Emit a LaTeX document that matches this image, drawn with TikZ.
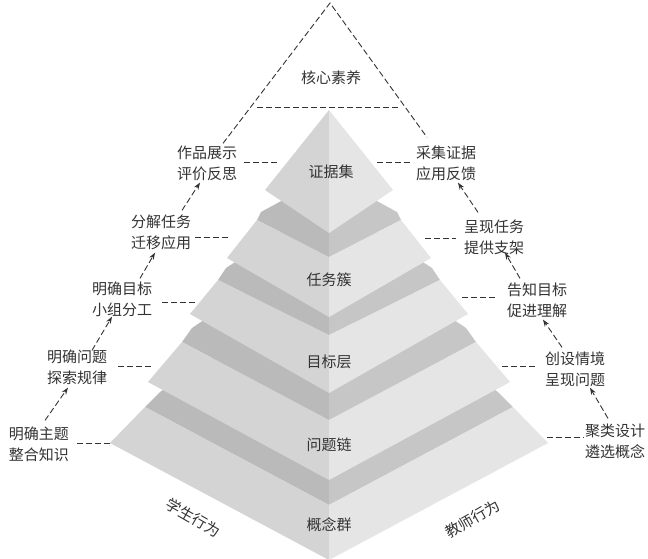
\documentclass[tikz,border=0pt]{standalone}
\usepackage{fontspec}
\setmainfont{Noto Sans CJK SC}
\usetikzlibrary{arrows.meta}
\definecolor{ink}{HTML}{333333}
\definecolor{faceL}{HTML}{D4D4D4}
\definecolor{faceR}{HTML}{E5E5E5}
\definecolor{bandL}{HTML}{BABABA}
\definecolor{bandR}{HTML}{C6C6C6}

\begin{document}
\begin{tikzpicture}[x=1pt,y=-1pt,
  lab/.style={font=\fontsize{15}{21}\selectfont,text=ink,align=center,inner sep=1pt},
  tag/.style={font=\fontsize{15}{18}\selectfont,text=ink,inner sep=1pt},
  guide/.style={draw=ink,line width=0.9pt,dash pattern=on 6pt off 3pt},
  tick/.style={guide},
  arr/.style={guide,-{Stealth[length=7pt,width=5pt]}}
]
  \fill[white] (0,0) rectangle (648,558);
  \useasboundingbox (0,0) rectangle (648,558);

  % stepped pyramid, bottom tier first
  \foreach \bx/\by/\mx/\my/\tx/\ty/\bc/\cf/\cb in {
      110/443/145/407/160/392/560/505/279,
      148/382/182/342/192/328/480/420/236,
      190/314/218/280/226/268/393/335/201,
      227/258/257/220/261/212/317/257/175}{
    \fill[bandL] (\tx,\ty) -- (329,\cb) -- (329,\cf) -- (\mx,\my) -- cycle;
    \fill[bandR] ({658-\tx},\ty) -- (329,\cb) -- (329,\cf) -- ({658-\mx},\my) -- cycle;
    \fill[faceL] (\mx,\my) -- (329,\cf) -- (329,\bc) -- (\bx,\by) -- cycle;
    \fill[faceR] ({658-\mx},\my) -- (329,\cf) -- (329,\bc) -- ({658-\bx},\by) -- cycle;
  }
  \fill[faceL] (329,110) -- (265,190) -- (329,233) -- cycle;
  \fill[faceR] (329,110) -- (393,190) -- (329,233) -- cycle;

  % tier names
  \node[tag] (core) at (331,78) {核心素养};
  \node[tag] (evid) at (331,172) {证据集};
  \node[tag] (task) at (329,280) {任务簇};
  \node[tag] (goal) at (329,362) {目标层};
  \node[tag] (prob) at (329,445) {问题链};
  \node[tag] (conc) at (329,525) {概念群};
  \node[tag,rotate=-30] (stud) at (193,518) {学生行为};
  \node[tag,rotate=30] (teach) at (473,519) {教师行为};

  % student side
  \node[lab] (s1) at (39,444) {明确主题\\整合知识};
  \node[lab] (s2) at (77,367) {明确问题\\探索规律};
  \node[lab] (s3) at (122,299) {明确目标\\小组分工};
  \node[lab] (s4) at (161,232) {分解任务\\迁移应用};
  \node[lab] (s5) at (207,163) {作品展示\\评价反思};

  % teacher side
  \node[lab] (t1) at (615,441) {聚类设计\\遴选概念};
  \node[lab] (t2) at (575,369) {创设情境\\呈现问题};
  \node[lab] (t3) at (537,300) {告知目标\\促进理解};
  \node[lab] (t4) at (494,237) {呈现任务\\提供支架};
  \node[lab] (t5) at (446,163) {采集证据\\应用反馈};

  \coordinate (apex) at (330,3);
  \coordinate (capL) at (257,107);
  \coordinate (capR) at (400,107);
  \coordinate (d1) at (110,443);
  \coordinate (d2) at (151,366);
  \coordinate (d3) at (195,302);
  \coordinate (d4) at (228,237);
  \coordinate (d5) at (277,162);
  \coordinate (e1) at (547,437);
  \coordinate (e2) at (502,366);
  \coordinate (e3) at (462,297);
  \coordinate (e4) at (425,238);
  \coordinate (e5) at (377,162);

  \draw[guide] (capL) -- (capR);
  \draw[guide] ([xshift=16pt,yshift=1pt]s5.north) -- (apex) -- ([xshift=-19pt,yshift=7pt]t5.north);

  \draw[arr] ([xshift=6pt,yshift=5pt]s1.north) -- ([xshift=-9pt,yshift=-2pt]s2.south);
  \draw[arr] ([xshift=15pt,yshift=-2pt]s2.north) -- ([xshift=-10pt,yshift=1pt]s3.south);
  \draw[arr] ([xshift=18pt,yshift=2pt]s3.north) -- ([xshift=-6pt,yshift=-2pt]s4.south);
  \draw[arr] ([xshift=21pt,yshift=3pt]s4.north) -- ([xshift=-7pt,yshift=-1pt]s5.south);

  \draw[arr] ([xshift=-7pt,yshift=4pt]t1.north) -- ([xshift=15pt]t2.south);
  \draw[arr] ([xshift=-13pt,yshift=3pt]t2.north) -- ([xshift=6pt,yshift=-1pt]t3.south);
  \draw[arr] ([xshift=-17pt,yshift=3pt]t3.north) -- ([xshift=11pt,yshift=3pt]t4.south);
  \draw[arr] ([xshift=-16pt,yshift=6pt]t4.north) -- ([xshift=12pt,yshift=-1pt]t5.south);

  \draw[tick,shorten >=6pt] (d1) -- (d1 -| s1.east);
  \draw[tick,shorten >=8pt] (d2) -- (d2 -| s2.east);
  \draw[tick,shorten >=8pt] (d3) -- (d3 -| s3.east);
  \draw[tick] (d4) -- (d4 -| s4.east);
  \draw[tick,shorten >=5pt] (d5) -- (d5 -| s5.east);
  \draw[tick] (e1) -- (e1 -| t1.west);
  \draw[tick,shorten >=7pt] (e2) -- (e2 -| t2.west);
  \draw[tick,shorten >=11pt] (e3) -- (e3 -| t3.west);
  \draw[tick,shorten >=7pt] (e4) -- (e4 -| t4.west);
  \draw[tick,shorten >=4pt] (e5) -- (e5 -| t5.west);
\end{tikzpicture}
\end{document}
